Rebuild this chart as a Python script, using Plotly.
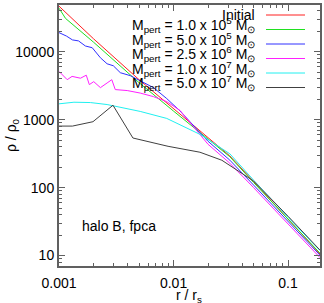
import plotly.graph_objects as go
import math

# ---------------- data ----------------
r_initial = [0.001, 0.002, 0.005, 0.01, 0.02, 0.031, 0.05, 0.1, 0.19]
rho_initial = [47100, 15600, 3890, 1460, 547, 293, 123, 34.8, 10.5]

r_1e5 = [0.001, 0.00114, 0.002, 0.005, 0.01, 0.02, 0.031, 0.05, 0.1, 0.19]
rho_1e5 = [44000, 31100, 13900, 3520, 1340, 512, 285, 119, 34, 10.8]

r_5e5 = [0.001, 0.00116, 0.00131, 0.00148, 0.0017, 0.00195, 0.0023, 0.00263, 0.00298,
         0.00343, 0.00419, 0.00512, 0.00668, 0.00872, 0.0114, 0.02, 0.031, 0.05, 0.1, 0.19]
rho_5e5 = [19200, 17100, 15000, 14500, 12200, 11500, 8170, 6670, 6240,
           4930, 4460, 3760, 2970, 2050, 1345, 481, 254, 109, 31.3, 10.1]

r_25e6 = [0.001, 0.00118, 0.0013, 0.00154, 0.00173, 0.00184, 0.00201, 0.0023, 0.00263,
          0.00289, 0.0031, 0.00394, 0.00512, 0.00668, 0.00872, 0.0114, 0.02, 0.031, 0.05, 0.1, 0.19]
rho_25e6 = [5150, 3890, 4350, 4090, 4530, 3290, 3640, 2970, 3480,
            3890, 2780, 2690, 2470, 2190, 1850, 1370, 435, 229, 100, 28.8, 9.3]

r_1e7 = [0.001, 0.00135, 0.00188, 0.00263, 0.00512, 0.00873, 0.017, 0.031, 0.05, 0.1, 0.19]
rho_1e7 = [1715, 1811, 1791, 1674, 1325, 1045, 609, 315, 129, 36.5, 11.8]

r_5e7 = [0.001, 0.00131, 0.00198, 0.00296, 0.00442, 0.00896, 0.017, 0.0264, 0.05, 0.1, 0.19]
rho_5e7 = [806, 806, 935, 1636, 538, 406, 332, 253, 125, 37.8, 12.0]

series_names = ["Initial",
                "M<sub>pert</sub> = 1.0 x 10<sup>5</sup> M<sub>\u2299</sub>",
                "M<sub>pert</sub> = 5.0 x 10<sup>5</sup> M<sub>\u2299</sub>",
                "M<sub>pert</sub> = 2.5 x 10<sup>6</sup> M<sub>\u2299</sub>",
                "M<sub>pert</sub> = 1.0 x 10<sup>7</sup> M<sub>\u2299</sub>",
                "M<sub>pert</sub> = 5.0 x 10<sup>7</sup> M<sub>\u2299</sub>"]
series_colors = ["#ff2020", "#20e020", "#3030ff", "#ff20ff", "#20f0f0", "#404040"]

x_tickvals = [0.001, 0.01, 0.1]
x_ticktext = ["0.001", "0.01", "0.1"]
y_tickvals = [10, 100, 1000, 10000]
y_ticktext = ["10", "100", "1000", "10000"]

x_range = [0.001, 0.19]
y_range = [7, 49000]

# ---------------- figure ----------------
series = [(r_initial, rho_initial), (r_1e5, rho_1e5), (r_5e5, rho_5e5),
          (r_25e6, rho_25e6), (r_1e7, rho_1e7), (r_5e7, rho_5e7)]

FONT = "Liberation Sans, Arial, Helvetica, sans-serif"
AXC = "#606060"

fig = go.Figure()
for (xs, ys), name, col in zip(series, series_names, series_colors):
    fig.add_trace(go.Scatter(x=xs, y=ys, mode="lines", name=name,
                             line=dict(color=col, width=1), showlegend=False))

def minor_vals(lo, hi):
    vals = []
    for e in range(int(math.floor(math.log10(lo))), int(math.ceil(math.log10(hi))) + 1):
        for m in range(2, 10):
            v = m * 10 ** e
            if lo <= v <= hi:
                vals.append(v)
    return vals

axis_common = dict(type="log", showline=True, linecolor=AXC, linewidth=2, mirror="allticks",
                   ticks="inside", ticklen=6, tickcolor=AXC, tickwidth=1,
                   showgrid=False, zeroline=False, automargin=False,
                   tickfont=dict(family=FONT, size=14, color="#000000"))

fig.update_xaxes(range=[math.log10(x_range[0]), math.log10(x_range[1])],
                 tickmode="array", tickvals=x_tickvals, ticktext=x_ticktext,
                 ticklabelstandoff=3,
                 minor=dict(tickmode="array", tickvals=minor_vals(*x_range), ticks="inside",
                            ticklen=3, tickcolor=AXC, showgrid=False),
                 **axis_common)
fig.update_yaxes(range=[math.log10(y_range[0]), math.log10(y_range[1])],
                 tickmode="array", tickvals=y_tickvals, ticktext=y_ticktext,
                 minor=dict(tickmode="array", tickvals=minor_vals(*y_range), ticks="inside",
                            ticklen=3, tickcolor=AXC, showgrid=False),
                 **axis_common)

L, R, T, B = 59, 4, 5, 37
W, H = 324, 303
PW, PH = W - L - R, H - T - B

def px(xp):
    return (xp - L) / PW

def py(yp):
    return (H - B - yp) / PH

# legend (text on the left, sample on the right, as in the reference)
leg_y = [15, 29.5, 44, 58.5, 73, 87.5]
for i, (name, col, yy) in enumerate(zip(series_names, series_colors, leg_y)):
    ty = yy if i == 0 else yy - 4.5
    fig.add_annotation(x=px(257), y=py(ty), xref="paper", yref="paper", text=name,
                       showarrow=False, xanchor="right", yanchor="middle",
                       font=dict(family=FONT, size=14, color="#000000"))
    fig.add_shape(type="line", xref="paper", yref="paper", x0=px(266), x1=px(305),
                  y0=py(yy), y1=py(yy), line=dict(color=col, width=1))

fig.add_annotation(x=px(80), y=py(226), xref="paper", yref="paper", text="halo B, fpca",
                   showarrow=False, xanchor="left", yanchor="middle",
                   font=dict(family=FONT, size=14, color="#000000"))
fig.add_annotation(x=px(189), y=py(296), xref="paper", yref="paper", text="r / r<sub>s</sub>",
                   showarrow=False, xanchor="center", yanchor="middle",
                   font=dict(family=FONT, size=14, color="#000000"))
fig.add_annotation(x=px(12), y=py(135), xref="paper", yref="paper", text="\u03c1 / \u03c1<sub>0</sub>",
                   showarrow=False, xanchor="center", yanchor="middle", textangle=-90,
                   font=dict(family=FONT, size=14, color="#000000"))

fig.update_layout(width=W, height=H, margin=dict(l=L, r=R, t=T, b=B),
                  paper_bgcolor="white", plot_bgcolor="white", showlegend=False)

fig.write_html("out.html", config={"displayModeBar": False},
               post_script="document.body.style.margin='0px';document.body.style.padding='0px';")
